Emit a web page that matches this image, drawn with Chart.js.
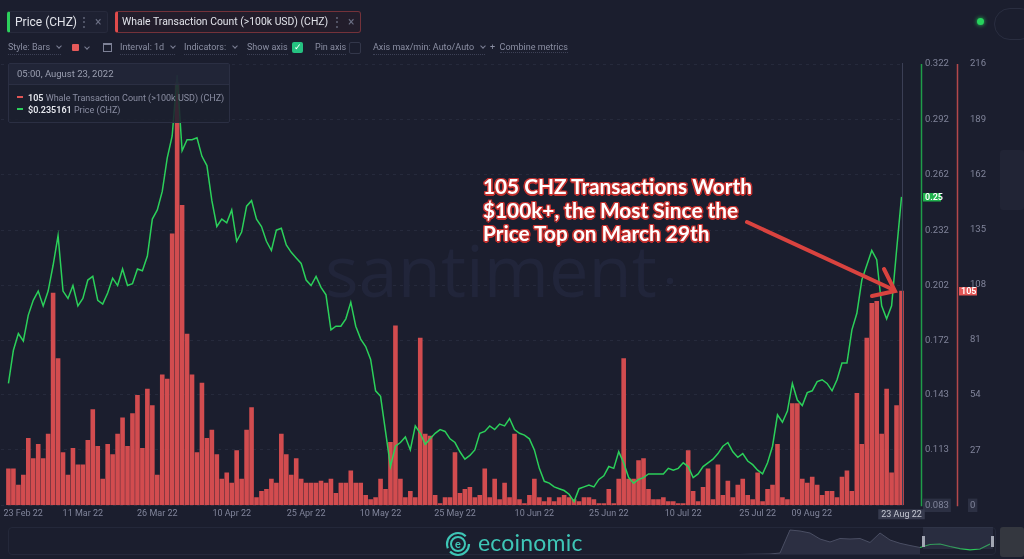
<!DOCTYPE html>
<html lang="en">
<head>
<meta charset="UTF-8">
<title>CHZ Whale Transaction Count vs Price</title>
<script src="https://cdn.jsdelivr.net/npm/chart.js"></script>
<style>
  html, body { margin: 0; padding: 0; }
  body { width: 1024px; height: 559px; overflow: hidden; position: relative; background: #1b1e2e; font-family: Roboto, "Noto Sans", sans-serif; color: #8b8fa3; }
  .abs { position: absolute; }
  .tab { position: absolute; top: 11px; height: 22px; box-sizing: border-box; border-radius: 3px; font-size: 12px; color: #e1e3ea; line-height: 20px; white-space: nowrap; }
  .tab .dots, .tab .x { position: absolute; top: 0; color: #6d7186; font-size: 12px; }
  .tool { position: absolute; top: 42px; font-size: 9px; line-height: 11px; color: #8b8fa3; border-bottom: 1px dotted #3d4156; padding-bottom: 1px; white-space: nowrap; }
  .chev { display: inline-block; width: 3px; height: 3px; border-right: 1px solid #7d8196; border-bottom: 1px solid #7d8196; transform: rotate(45deg); margin-left: 7px; position: relative; top: -2px; }
  .tip { left: 8px; top: 63px; width: 222px; height: 60px; box-sizing: border-box; border: 1px solid #2b2f43; background: rgba(28, 31, 47, 0.86); border-radius: 2px; font-size: 9px; }
  .tip .head { height: 20px; line-height: 20px; padding-left: 8px; color: #9b9fb1; font-size: 9.5px; background: rgba(36, 40, 58, 0.7); border-bottom: 1px solid #2b2f43; }
  .tip .row { position: absolute; left: 8px; height: 12px; line-height: 12px; color: #8b8fa3; white-space: nowrap; }
  .tip .row b { color: #e6e8ee; font-weight: 600; }
  .tip .dash { display: inline-block; width: 6px; height: 2px; margin-right: 5px; position: relative; top: -3px; }
  .note { left: 483px; top: 174px; font-family: Lato, "Open Sans", sans-serif; font-weight: 700; font-size: 20.8px; line-height: 23.5px; color: #ffffff; white-space: nowrap;
    text-shadow: -1.3px -1.3px 0 #c3302e, 1.3px -1.3px 0 #c3302e, -1.3px 1.3px 0 #c3302e, 1.3px 1.3px 0 #c3302e, 0 -1.5px 0 #c3302e, 0 1.5px 0 #c3302e, -1.5px 0 0 #c3302e, 1.5px 0 0 #c3302e; }
</style>
</head>
<body>

<canvas id="chart" class="abs" width="1024" height="532" style="left:0;top:0;"></canvas>
<canvas id="nav" class="abs" width="290" height="30" style="left:700px;top:525px;"></canvas>

<!-- metric tabs -->
<div class="tab" style="left:7px;width:101px;background:#1e2132;border:1px solid #272a3c;border-left:3px solid #2ccf5c;">
  <span style="position:absolute;left:5px;">Price (CHZ)</span>
  <span class="dots" style="left:68px;">⋮</span><span class="x" style="left:85px;">×</span>
</div>
<div class="tab" style="left:115px;width:246px;background:#221d2b;border:1px solid #74323a;border-left:3px solid #e04b4b;">
  <span style="position:absolute;left:4px;font-size:10.4px;">Whale Transaction Count (&gt;100k USD) (CHZ)</span>
  <span class="dots" style="left:213px;">⋮</span><span class="x" style="left:230px;">×</span>
</div>
<div class="abs" style="left:977px;top:18px;width:7px;height:7px;border-radius:50%;background:#27d35d;box-shadow:0 0 4px #27d35d;"></div>
<div class="abs" style="left:994px;top:8px;width:40px;height:30px;border-radius:16px;border:1px solid #2a2e40;"></div>

<!-- toolbar -->
<div class="tool" style="left:8px;">Style: Bars<span class="chev"></span></div>
<div class="abs" style="left:72px;top:44px;width:7px;height:7px;background:#e65a5a;border-radius:1px;"></div>
<div class="abs" style="left:85px;top:45px;width:3px;height:3px;border-right:1px solid #7d8196;border-bottom:1px solid #7d8196;transform:rotate(45deg);"></div>
<div class="abs" style="left:103px;top:43px;width:7px;height:6px;border:1px solid #7d8196;border-top-width:2px;"></div>
<div class="tool" style="left:120px;">Interval: 1d<span class="chev"></span></div>
<div class="tool" style="left:184px;">Indicators:<span class="chev"></span></div>
<div class="tool" style="left:247px;">Show axis</div>
<div class="abs" style="left:292px;top:42px;width:11px;height:11px;background:#25c281;border-radius:2px;color:#fff;font-size:9px;line-height:11px;text-align:center;">✓</div>
<div class="tool" style="left:315px;">Pin axis</div>
<div class="abs" style="left:349px;top:42px;width:10px;height:10px;border:1px solid #33374a;border-radius:2px;"></div>
<div class="tool" style="left:373px;">Axis max/min: Auto/Auto<span class="chev"></span></div>
<div class="tool" style="left:490px;border-bottom:none;">+&nbsp;&nbsp;<span style="border-bottom:1px dotted #3d4156;">Combine metrics</span></div>

<!-- hover tooltip -->
<div class="abs tip">
  <div class="head">05:00, August 23, 2022</div>
  <div class="row" style="top:28px;"><span class="dash" style="background:#e05555;"></span><b>105</b> Whale Transaction Count (&gt;100k USD) (CHZ)</div>
  <div class="row" style="top:40px;"><span class="dash" style="background:#2ccf5c;"></span><b>$0.235161</b> Price (CHZ)</div>
</div>

<!-- annotation -->
<div class="abs note">105 CHZ Transactions Worth<br>$100k+, the Most Since the<br>Price Top on March 29th</div>
<svg class="abs" style="left:0;top:0;" width="1024" height="559">
  <g stroke="#d9433f" stroke-width="4" stroke-linecap="round" fill="none">
    <line x1="747" y1="222" x2="894" y2="290"/>
    <polyline points="884,269 895,291 872,296"/>
  </g>
</svg>

<!-- navigator + footer -->
<div class="abs" style="left:8px;top:527px;width:988px;height:28px;box-sizing:border-box;border:1px solid #24283a;border-radius:4px;"></div>
<div class="abs" style="left:923px;top:527px;width:70px;height:22px;background:rgba(70,75,98,0.35);"></div>
<div class="abs" style="left:922px;top:536px;width:3px;height:11px;background:#a3a7b4;"></div>
<div class="abs" style="left:991px;top:536px;width:3px;height:11px;background:#a3a7b4;"></div>
<div class="abs" style="left:1000px;top:150px;width:24px;height:60px;background:#212435;border-radius:3px;"></div>
<div class="abs" style="left:1000px;top:527px;width:24px;height:30px;background:#34373f;border-radius:3px;"></div>
<svg class="abs" style="left:445px;top:531px;" width="28" height="28">
  <circle cx="13" cy="13" r="11" stroke="#3ec6b6" stroke-width="2.2" fill="none" stroke-dasharray="26 4 30 9"/>
  <circle cx="13" cy="13" r="7" stroke="#3ec6b6" stroke-width="2" fill="none"/>
  <text x="13" y="17" text-anchor="middle" font-size="11" font-weight="700" fill="#3ec6b6" font-family="Lato, sans-serif">e</text>
</svg>
<div class="abs" style="left:478px;top:528px;font-family:Lato,sans-serif;font-size:23px;color:#3ec6b6;letter-spacing:0.2px;">ecoinomic</div>

<script>
// daily categories, 23 Feb 22 .. 23 Aug 22
const MONTHS = ['Jan', 'Feb', 'Mar', 'Apr', 'May', 'Jun', 'Jul', 'Aug', 'Sep', 'Oct', 'Nov', 'Dec'];
const firstDay = Date.UTC(2022, 1, 23);
const days = Array.from({ length: 182 }, (_, i) => {
    const d = new Date(firstDay + i * 86400000);
    return String(d.getUTCDate()).padStart(2, '0') + ' ' + MONTHS[d.getUTCMonth()] + ' 22';
});

const tickDates = ['23 Feb 22', '11 Mar 22', '26 Mar 22', '10 Apr 22', '25 Apr 22', '10 May 22', '25 May 22',
    '10 Jun 22', '25 Jun 22', '10 Jul 22', '25 Jul 22', '09 Aug 22'];
const priceTicks = [0.083, 0.113, 0.143, 0.172, 0.202, 0.232, 0.262, 0.292, 0.322];
const countTicks = [0, 27, 54, 81, 108, 135, 162, 189, 216];

// Whale Transaction Count (>100k USD), one value per day
const whaleCount = [null,
    18, 18, 10, 15, 33, 23, 30, 23, 35, 104,
    72, 26, 15, 28, 20, 20, 32, 47, 29, 13,
    30, 25, 35, 43, 29, 45, 54, 28, 57, 49,
    15, 64, 62, 133, 207, 147, 84, 64, 26, 60,
    33, 37, 25, 13, 16, 11, 27, 13, 37, 48,
    4, 7, 8, 13, 11, 35, 25, 15, 23, 13,
    11, 11, 11, 12, 11, 13, 6, 11, 11, 17,
    11, 11, 5, 3, 4, 13, 8, 31, 88, 13,
    4, 7, 4, 82, 35, 34, 5, 1, 4, 4,
    26, 6, 8, 9, 4, 5, 18, 4, 13, 3,
    11, 4, 35, 3, 1, 5, 13, 4, 2, 4,
    2, 4, 5, 4, 3, 2, 4, 4, 3, 1,
    1, 8, 1, 13, 72, 13, 13, 22, 23, 8,
    3, 3, 4, 2, 2, 1, 1, 27, 7, 2,
    9, 18, 3, 20, 5, 12, 4, 10, 13, 5,
    3, 16, 2, 8, 10, 30, 4, 3, 50, 50,
    13, 11, 14, 10, 5, 7, 7, 4, 14, 17,
    7, 55, 30, 82, 99, 100, 35, 57, 16, 49, 105];

// Price (CHZ) in USD
const priceCHZ = [null,
    0.149, 0.167, 0.176, 0.172, 0.186, 0.194, 0.199, 0.191, 0.199, 0.213,
    0.229, 0.199, 0.195, 0.202, 0.191, 0.195, 0.205, 0.207, 0.194, 0.192,
    0.198, 0.206, 0.202, 0.211, 0.202, 0.203, 0.211, 0.210, 0.218, 0.238,
    0.243, 0.253, 0.271, 0.283, 0.316, 0.275, 0.281, 0.281, 0.282, 0.272,
    0.267, 0.248, 0.234, 0.238, 0.236, 0.243, 0.226, 0.231, 0.245, 0.248,
    0.238, 0.234, 0.226, 0.221, 0.232, 0.233, 0.224, 0.220, 0.217, 0.214,
    0.205, 0.202, 0.207, 0.201, 0.197, 0.178, 0.180, 0.180, 0.184, 0.193,
    0.180, 0.173, 0.169, 0.162, 0.145, 0.142, 0.123, 0.104, 0.115, 0.117,
    0.120, 0.113, 0.126, 0.122, 0.116, 0.119, 0.122, 0.124, 0.123, 0.119,
    0.117, 0.112, 0.108, 0.110, 0.113, 0.122, 0.123, 0.126, 0.124, 0.127,
    0.126, 0.130, 0.124, 0.122, 0.121, 0.119, 0.113, 0.103, 0.096, 0.095,
    0.093, 0.092, 0.091, 0.089, 0.085, 0.092, 0.093, 0.094, 0.093, 0.097,
    0.099, 0.104, 0.103, 0.112, 0.106, 0.098, 0.095, 0.097, 0.098, 0.100,
    0.100, 0.100, 0.100, 0.103, 0.102, 0.103, 0.106, 0.104, 0.098, 0.100,
    0.104, 0.106, 0.108, 0.111, 0.115, 0.117, 0.112, 0.109, 0.111, 0.107,
    0.105, 0.102, 0.100, 0.106, 0.115, 0.132, 0.128, 0.134, 0.149, 0.140,
    0.137, 0.144, 0.145, 0.150, 0.151, 0.149, 0.145, 0.151, 0.160, 0.160,
    0.178, 0.187, 0.205, 0.213, 0.221, 0.216, 0.191, 0.184, 0.191, 0.221, 0.250];

// navigator strip (full history, relative level)
const navLevel = [0.5, 0.5, 0.5, 0.5, 0.5, 0.7, 0.8, 1, 2, 25, 24, 22, 16, 13, 16.5, 16, 16.5, 12.5, 22, 15,
    11.7, 9.5, 7.5, 10.5, 11, 8.5, 6.3, 5.2, 6, 11];
const navWindowStart = 22;

const GREEN = '#2bd05a';
const RED = '#d24c4f';
const LABEL = '#80849a';
const GRID = '#262a3c';

const lastPrice = priceCHZ[priceCHZ.length - 1];
const lastCount = whaleCount[whaleCount.length - 1];

function badge(ctx, text, x, y, bg, w) {
    ctx.font = '600 9px Roboto';
    const tw = w || ctx.measureText(text).width + 4;
    ctx.fillStyle = bg;
    ctx.fillRect(x, Math.round(y) - 4, tw, 8.5);
    ctx.fillStyle = '#ffffff';
    ctx.textBaseline = 'middle';
    ctx.textAlign = 'left';
    ctx.fillText(text, x + 2, Math.round(y) + 0.5);
}

const decor = {
    id: 'decor',
    beforeDatasetsDraw(chart) {
        const { ctx } = chart;
        ctx.save();
        ctx.font = '400 80px "Open Sans"';
        const size = 80 * 332 / ctx.measureText('santiment').width;
        ctx.font = '400 ' + size + 'px "Open Sans"';
        ctx.fillStyle = '#21253a';
        ctx.textBaseline = 'alphabetic';
        ctx.fillText('santiment', 325, 297);
        ctx.beginPath();
        ctx.arc(670, 281, 3.2, 0, Math.PI * 2);
        ctx.fill();
        ctx.restore();
    },
    afterDraw(chart) {
        const { ctx, chartArea, scales } = chart;
        const xLast = scales.x.getPixelForValue(days.length - 1);
        ctx.save();
        // hover cursor
        ctx.strokeStyle = '#3b3f55';
        ctx.lineWidth = 1;
        ctx.beginPath();
        ctx.moveTo(Math.round(xLast) + 0.5, chartArea.top - 1);
        ctx.lineTo(Math.round(xLast) + 0.5, chartArea.bottom);
        ctx.stroke();
        // axis lines
        const gx = Math.round(scales.price.left + 17) + 0.5;
        const rx = Math.round(scales.count.left) + 0.5;
        ctx.lineWidth = 1.5;
        ctx.strokeStyle = '#1f9d49';
        ctx.beginPath(); ctx.moveTo(gx, chartArea.top); ctx.lineTo(gx, chartArea.bottom + 1); ctx.stroke();
        ctx.strokeStyle = '#b4484b';
        ctx.beginPath(); ctx.moveTo(rx, chartArea.top); ctx.lineTo(rx, chartArea.bottom + 1); ctx.stroke();
        // last value badges
        badge(ctx, String(Number(lastPrice.toFixed(3))), gx + 1.5, scales.price.getPixelForValue(lastPrice), '#21b34e', 18);
        badge(ctx, String(lastCount), rx + 1.5, scales.count.getPixelForValue(lastCount), '#e25656', 18);
        // hovered date on x axis
        ctx.font = '9px Roboto';
        const label = days[days.length - 1];
        const w = ctx.measureText(label).width + 6;
        ctx.fillStyle = '#363a4d';
        ctx.fillRect(xLast - w / 2, chartArea.bottom + 4, w, 10);
        ctx.fillStyle = '#c4c7d2';
        ctx.textAlign = 'center';
        ctx.textBaseline = 'middle';
        ctx.fillText(label, xLast, chartArea.bottom + 9.5);
        ctx.restore();
    }
};

new Chart(document.getElementById('chart'), {
    data: {
        labels: days,
        datasets: [
            {
                type: 'line',
                label: 'Price (CHZ)',
                data: priceCHZ,
                yAxisID: 'price',
                borderColor: GREEN,
                borderWidth: 1.5,
                pointRadius: 0,
                tension: 0,
                order: 0
            },
            {
                type: 'bar',
                label: 'Whale Transaction Count (>100k USD) (CHZ)',
                data: whaleCount,
                yAxisID: 'count',
                backgroundColor: RED,
                barPercentage: 0.93,
                categoryPercentage: 1,
                order: 1
            }
        ]
    },
    options: {
        responsive: false,
        animation: false,
        layout: { padding: { left: 1, top: 64, right: 27, bottom: 0 } },
        plugins: { legend: { display: false }, tooltip: { enabled: false } },
        scales: {
            x: {
                type: 'category',
                offset: true,
                grid: {
                    offset: false,
                    drawTicks: false,
                    color: ctx => (ctx.index > 0 && tickDates.includes(days[ctx.index])) ? GRID : 'rgba(0,0,0,0)'
                },
                border: { display: false, dash: [3, 3] },
                ticks: {
                    autoSkip: false,
                    maxRotation: 0,
                    align: 'inner',
                    padding: 3,
                    color: LABEL,
                    font: { size: 9, family: 'Roboto' },
                    callback: (v, i) => tickDates.includes(days[i]) ? days[i] : null
                },
                afterFit: s => { s.height = 21; }
            },
            price: {
                position: 'right',
                weight: 0,
                min: priceTicks[0],
                max: priceTicks[priceTicks.length - 1],
                afterBuildTicks: s => { s.ticks = priceTicks.map(v => ({ value: v })); },
                grid: { color: GRID, drawTicks: false },
                border: { display: false, dash: [3, 4] },
                ticks: {
                    padding: 21,
                    color: LABEL,
                    font: { size: 9.5, family: 'Roboto' },
                    callback: v => v.toFixed(3),
                    showLabelBackdrop: true,
                    backdropColor: ctx => ctx.index === 0 ? '#2c3043' : 'rgba(0,0,0,0)',
                    backdropPadding: { top: 1, bottom: 1, left: 2, right: 2 }
                },
                afterFit: s => { s.width = 53; }
            },
            count: {
                position: 'right',
                weight: 1,
                min: countTicks[0],
                max: countTicks[countTicks.length - 1],
                afterBuildTicks: s => { s.ticks = countTicks.map(v => ({ value: v })); },
                grid: { display: false },
                border: { display: false },
                ticks: {
                    padding: 5,
                    color: LABEL,
                    font: { size: 9.5, family: 'Roboto' },
                    showLabelBackdrop: true,
                    backdropColor: ctx => ctx.index === 0 ? '#2c3043' : 'rgba(0,0,0,0)',
                    backdropPadding: { top: 1, bottom: 1, left: 2, right: 2 }
                },
                afterFit: s => { s.width = 40; }
            }
        }
    },
    plugins: [decor]
});

// navigator
new Chart(document.getElementById('nav'), {
    type: 'line',
    data: {
        labels: navLevel.map((_, i) => i),
        datasets: [
            {
                data: navLevel.map((v, i) => i <= navWindowStart ? v : null),
                borderColor: '#4a4e63',
                borderWidth: 1,
                backgroundColor: 'rgba(90, 95, 118, 0.28)',
                fill: 'origin',
                pointRadius: 0
            },
            {
                data: navLevel.map((v, i) => i >= navWindowStart ? v : null),
                borderColor: '#2bc85a',
                borderWidth: 1.2,
                pointRadius: 0
            }
        ]
    },
    options: {
        responsive: false,
        animation: false,
        layout: { padding: 0 },
        plugins: { legend: { display: false }, tooltip: { enabled: false } },
        scales: {
            x: { display: false },
            y: { display: false, min: 0, max: 30 }
        }
    }
});
</script>
</body>
</html>
